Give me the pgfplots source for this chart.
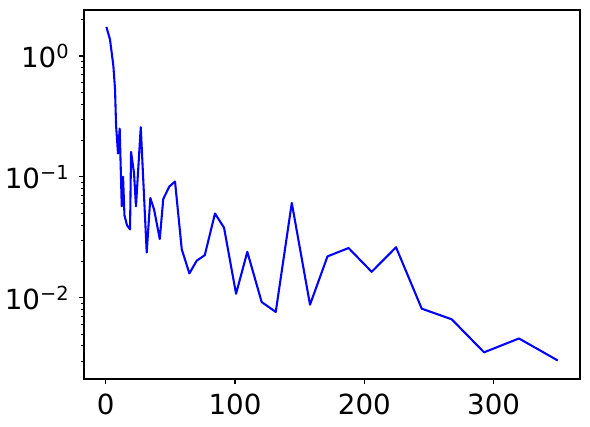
\documentclass[border=0pt]{standalone}
\usepackage{fontspec}
\setmainfont{DejaVu Sans}
\usepackage{pgfplots}
\pgfplotsset{compat=1.18}

\pgfplotstableread{
x      y
0.5    1.74
3.3    1.37
5.9    0.83
7.2    0.533
8.0    0.267
9.5    0.156
10.8   0.251
12.4   0.057
13.4   0.1005
14.5   0.048
16.4   0.040
18.8   0.0368
19.6   0.161
21.9   0.107
23.4   0.057
27.1   0.258
31.7   0.0237
34.5   0.0669
37.4   0.0537
41.8   0.0306
44.5   0.0657
49.2   0.0832
53.6   0.0915
58.8   0.0252
64.7   0.0159
70.4   0.0203
76.6   0.0225
84.5   0.0498
91.5   0.038
100.8  0.0108
109.5  0.024
120.6  0.00922
131.5  0.00764
143.9  0.0609
158.0  0.00877
171.5  0.022
187.8  0.0258
205.7  0.0164
224.5  0.0262
244.4  0.00813
267.6  0.00664
292.6  0.00354
319.6  0.00461
349.6  0.00303
}\curve

\begin{document}
\begin{tikzpicture}
\useasboundingbox (-84bp,-48bp) rectangle (506bp,379bp);
\begin{axis}[
  at={(0,0)}, anchor=south west,
  width=496bp, height=369bp, scale only axis,
  ymode=log,
  xmin=-16.8, xmax=366.8,
  ymin=0.00213, ymax=2.4,
  axis line style={line width=1.1bp},
  tick pos=left,
  tick align=outside,
  major tick length=4.9bp,
  minor tick length=2.8bp,
  every tick/.style={line width=1.1bp, black},
  every minor tick/.style={line width=0.85bp, black},
  xtick={0,100,200,300},
  xticklabels={0,100,200,300},
  minor xtick={},
  ytick={1,0.1,0.01},
  minor ytick={0.003,0.004,0.005,0.006,0.007,0.008,0.009,
               0.02,0.03,0.04,0.05,0.06,0.07,0.08,0.09,
               0.2,0.3,0.4,0.5,0.6,0.7,0.8,0.9,2},
  yticklabels={10\textsuperscript{0},10\textsuperscript{\char"2212 1},10\textsuperscript{\char"2212 2}},
  tick label style={font=\fontsize{27.8}{32}\selectfont},
  xticklabel style={inner sep=0pt, anchor=north, yshift=-9.7bp},
  yticklabel style={inner sep=0pt, anchor=east, xshift=-9.7bp},
]
\addplot[blue, line width=2.08bp, line join=round, mark=none] table[x=x,y=y] {\curve};
\end{axis}
\end{tikzpicture}
\end{document}
